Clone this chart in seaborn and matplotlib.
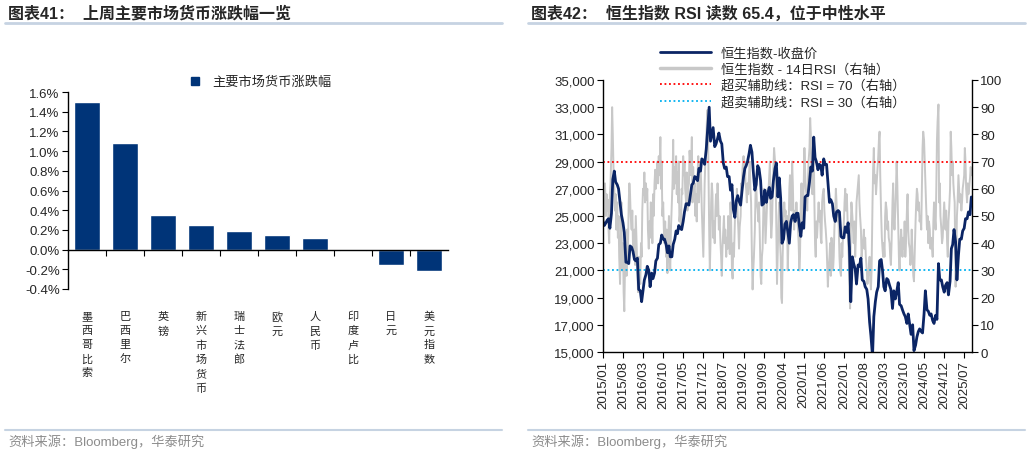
"""周报图表：主要市场货币涨跌幅 + 恒生指数 RSI。"""
import matplotlib
matplotlib.use("Agg")
import matplotlib.pyplot as plt
from matplotlib.lines import Line2D
import numpy as np
import pandas as pd
import seaborn as sns

# ---- 左图数据：上周主要市场货币涨跌幅（%）
currencies = ['墨西哥比索', '巴西里尔', '英镑', '新兴市场货币', '瑞士法郎',
              '欧元', '人民币', '印度卢比', '日元', '美元指数']
weekly_change = [1.50, 1.08, 0.35, 0.245, 0.185, 0.145, 0.115, -0.015, -0.16, -0.22]

# ---- 右图数据：恒生指数收盘价（每月 1 日、15 日）
hsi_close = [
    24600, 24300, 24500, 24700, 24800, 24100, 25200, 27700, 28300, 27500, 27300, 27000,
    26000, 25100, 24500, 23800, 21600, 21600, 21500, 22800, 22700, 22400, 21800, 21700,  # 2015
    21900, 19600, 19500, 18700, 19500, 20300, 20700, 21300, 21000, 19800, 20800, 20400,
    20800, 21700, 21900, 22900, 23000, 23600, 23300, 23300, 22900, 22300, 22800, 22000,  # 2016
    22000, 22900, 23300, 23900, 23700, 24300, 24100, 24000, 24600, 25300, 25900, 25900,
    25800, 26500, 27300, 27400, 27900, 27800, 27600, 28500, 28300, 29200, 29100, 28800,  # 2017
    29900, 31300, 33000, 30500, 31000, 31500, 30100, 30300, 30700, 31100, 30500, 30300,
    28900, 28500, 28600, 27900, 27900, 26900, 27300, 25500, 24900, 26100, 26500, 26100,  # 2018
    25800, 26800, 27900, 28500, 28700, 29000, 29600, 30200, 29700, 28300, 26900, 27300,
    28700, 28500, 27600, 25800, 25900, 26900, 26000, 26600, 27100, 26300, 26400, 27600,  # 2019
    28500, 28900, 26400, 27800, 26300, 23000, 23300, 24400, 24600, 23900, 23000, 24500,
    25000, 25100, 24600, 25200, 25200, 24300, 23500, 24500, 24100, 26400, 26500, 26500,  # 2020
    27500, 28600, 28300, 30800, 29300, 29000, 28400, 28800, 28700, 28000, 29200, 28800,
    28800, 27500, 26000, 26200, 25900, 25000, 24600, 25300, 25400, 25300, 23500, 23400,  # 2021
    23400, 24200, 23800, 24500, 22700, 18700, 22000, 21500, 21100, 20000, 21400, 21300,
    21900, 20300, 20200, 19800, 19600, 18900, 17200, 16200, 14700, 17600, 18700, 19400,  # 2022
    19800, 21700, 21800, 21000, 19800, 19500, 20400, 20300, 19900, 19600, 18200, 19500,
    18900, 19400, 20100, 18500, 18400, 18100, 17800, 17600, 17100, 17800, 17000, 16300,  # 2023
    17000, 15100, 15500, 16100, 16500, 16700, 16500, 16400, 17800, 19500, 18100, 18000,
    17700, 17800, 17300, 17100, 17700, 17400, 21500, 20300, 20300, 19800, 19400, 19900,  # 2024
    20100, 19200, 20200, 22600, 22900, 24000, 23100, 20300, 22100, 23300, 23300, 23900,
    24100, 24800, 24800, 25300, 25100, 26400,                                            # 2025
]

# ---- 右图数据：恒生指数 14 日 RSI（每月 1、8、15、22 日）
rsi_14 = [
    55, 48, 60, 62, 50, 58, 52, 56, 45, 40, 58, 62, 75, 90, 80, 68, 60, 52, 58, 45, 55, 42, 50, 35,
    25, 40, 55, 30, 40, 22, 15, 30, 38, 28, 45, 35, 55, 62, 58, 50, 45, 52, 40, 38, 45, 32, 50, 42,  # 2015
    30, 22, 35, 28, 25, 40, 35, 52, 60, 58, 66, 55, 62, 56, 60, 45, 38, 48, 42, 55, 52, 40, 58, 50,
    62, 67, 60, 65, 70, 62, 72, 65, 79, 60, 70, 50, 55, 45, 40, 48, 35, 45, 29, 40, 50, 35, 30, 45,  # 2016
    55, 62, 78, 60, 68, 62, 72, 58, 66, 55, 70, 48, 52, 45, 60, 58, 72, 65, 70, 60, 55, 66, 52, 60,
    62, 74, 70, 65, 79, 55, 68, 60, 62, 50, 58, 48, 65, 72, 55, 62, 70, 62, 52, 45, 35, 48, 62, 70,  # 2017
    78, 85, 89, 75, 45, 30, 40, 55, 62, 58, 42, 48, 40, 52, 58, 50, 62, 55, 45, 50, 40, 35, 28, 38,
    45, 50, 40, 45, 35, 42, 38, 50, 40, 36, 55, 48, 30, 27, 40, 35, 48, 55, 52, 60, 50, 45, 38, 46,  # 2018
    50, 62, 60, 68, 72, 65, 70, 62, 60, 55, 62, 58, 66, 70, 60, 55, 35, 23, 30, 35, 45, 58, 62, 55,
    52, 48, 55, 45, 28, 25, 35, 38, 55, 60, 50, 40, 48, 55, 60, 58, 65, 70, 50, 42, 48, 60, 68, 75,  # 2019
    70, 65, 45, 25, 40, 50, 55, 42, 35, 20, 18, 35, 48, 55, 50, 52, 45, 50, 30, 40, 60, 65, 58, 52,
    70, 62, 50, 45, 52, 48, 55, 50, 45, 40, 30, 35, 55, 62, 52, 48, 62, 75, 68, 60, 58, 52, 62, 70,  # 2020
    75, 86, 80, 62, 58, 72, 76, 55, 40, 35, 48, 42, 50, 55, 48, 52, 42, 40, 55, 58, 60, 52, 48, 45,
    40, 32, 24, 30, 35, 40, 28, 42, 38, 30, 35, 45, 52, 60, 55, 48, 52, 45, 35, 30, 28, 40, 35, 42,  # 2021
    48, 55, 60, 52, 58, 50, 40, 35, 22, 16, 45, 55, 50, 45, 40, 48, 35, 42, 55, 58, 62, 65, 55, 50,
    45, 35, 38, 40, 45, 38, 42, 35, 30, 25, 28, 30, 35, 26, 23, 30, 55, 68, 75, 62, 65, 58, 62, 66,  # 2022
    72, 78, 81, 65, 50, 42, 38, 35, 40, 35, 50, 55, 52, 45, 48, 42, 40, 35, 32, 40, 55, 62, 50, 45,
    52, 60, 70, 62, 45, 35, 30, 38, 45, 40, 35, 42, 38, 48, 35, 40, 52, 58, 45, 40, 38, 32, 35, 45,  # 2023
    35, 28, 26, 35, 48, 55, 60, 58, 52, 55, 48, 50, 45, 60, 75, 81, 78, 70, 62, 55, 45, 50, 40, 48,
    45, 38, 42, 40, 35, 48, 55, 50, 45, 60, 78, 85, 91, 55, 62, 50, 45, 40, 42, 48, 55, 50, 45, 52,  # 2024
    40, 35, 48, 52, 60, 81, 75, 65, 70, 62, 58, 55, 24, 35, 50, 55, 65, 60, 55, 58, 52, 55, 60, 62,
    65, 75, 70, 60, 55, 62, 58, 60, 64, 68, 65, 65,                                                  # 2025
]
overbought = 70
oversold = 30

months = pd.date_range('2015-01-01', '2025-09-01', freq='MS')
hsi_dates = [m + pd.Timedelta(days=d) for m in months for d in (0, 14)]
rsi_dates = [m + pd.Timedelta(days=d) for m in months for d in (0, 7, 14, 21)]
hsi_df = pd.DataFrame({'date': hsi_dates, 'close': hsi_close})
rsi_df = pd.DataFrame({'date': rsi_dates, 'rsi': rsi_14})
bar_df = pd.DataFrame({'currency': currencies, 'change': weekly_change})

NAVY_BAR = '#003478'
NAVY_LINE = '#0B2565'
GREY = '#C8C8C8'
RULE = '#C6D3E2'
W, H = 1031, 456

sns.set_theme(style='ticks')
plt.rcParams['font.family'] = ['Liberation Sans', 'Noto Sans CJK SC']
plt.rcParams['axes.unicode_minus'] = False

fig = plt.figure(figsize=(W / 100, H / 100), dpi=100)


def fx(px):
    return px / W


def fy(py):
    return 1 - py / H


# 标题、分隔线、资料来源
for x0, x1, title in [(5, 502, '图表41：  上周主要市场货币涨跌幅一览'),
                      (528, 1025, '图表42：  恒生指数 RSI 读数 65.4，位于中性水平')]:
    fig.text(fx(x0 + 3), fy(14), title, fontsize=11.5, fontweight='bold', va='center', ha='left')
    fig.add_artist(Line2D([fx(x0), fx(x1)], [fy(24), fy(24)], color=RULE, lw=2))
    fig.add_artist(Line2D([fx(x0), fx(x1)], [fy(431), fy(431)], color=RULE, lw=1.5))
    fig.text(fx(x0 + 3), fy(442), '资料来源：Bloomberg，华泰研究', fontsize=9.5,
             color='#8C8C8C', va='center', ha='left')

# ---- 左图：柱状图
ax = fig.add_axes([fx(68), fy(290), fx(448 - 68), (290 - 93) / H])
sns.barplot(data=bar_df, x='currency', y='change', color=NAVY_BAR, width=0.66,
            saturation=1, ax=ax)
ax.set_ylim(-0.4, 1.6)
ax.set_xlim(-0.5, len(currencies) - 0.5)
ax.set_yticks(np.arange(-0.4, 1.61, 0.2))
ax.set_yticklabels([f'{v:.1f}%' for v in np.arange(-0.4, 1.61, 0.2)], fontsize=9.5)
ax.set_xticks(np.arange(0.5, len(currencies) - 0.5, 1))
ax.set_xticklabels([])
ax.spines['bottom'].set_position(('data', 0))
for s in ('top', 'right'):
    ax.spines[s].set_visible(False)
for s in ('left', 'bottom'):
    ax.spines[s].set_color('black')
    ax.spines[s].set_linewidth(1)
ax.tick_params(axis='both', direction='out', length=4, width=0.8, color='black', pad=2)
ax.set_xlabel('')
ax.set_ylabel('')
for i, name in enumerate(currencies):
    ax.text(i, -0.112, '\n'.join(name), transform=ax.get_xaxis_transform(),
            ha='center', va='top', fontsize=8, linespacing=1.5)
fig.legend(handles=[Line2D([], [], marker='s', ls='', color=NAVY_BAR, markersize=5.5)],
           labels=['主要市场货币涨跌幅'], loc='center left',
           bbox_to_anchor=(fx(182), fy(83)), frameon=False, fontsize=9.5,
           handletextpad=0.3, borderaxespad=0, borderpad=0)

# ---- 右图：恒生指数 + RSI
axl = fig.add_axes([fx(603), fy(353), fx(972 - 603), (353 - 81) / H])
axr = axl.twinx()
sns.lineplot(data=rsi_df, x='date', y='rsi', color=GREY, lw=1.4, ax=axr)
axr.axhline(overbought, color='#FF0000', ls=(0, (1, 1.5)), lw=1.3)
axr.axhline(oversold, color='#00B0F0', ls=(0, (1, 1.5)), lw=1.3)
sns.lineplot(data=hsi_df, x='date', y='close', color=NAVY_LINE, lw=2, ax=axl)
axl.set_zorder(axr.get_zorder() + 1)
axl.patch.set_visible(False)

axl.set_ylim(15000, 35000)
axr.set_ylim(0, 100)
axl.set_xlim(pd.Timestamp('2015-01-01'), pd.Timestamp('2025-09-22'))
axl.set_yticks(range(15000, 35001, 2000))
axl.set_yticklabels([f'{v:,}' for v in range(15000, 35001, 2000)], fontsize=9.5)
axr.set_yticks(range(0, 101, 10))
axr.set_yticklabels([str(v) for v in range(0, 101, 10)], fontsize=9.5)
xt = pd.date_range('2015-01-01', '2025-07-01', freq='7MS')
axl.set_xticks(xt)
axl.set_xticklabels([d.strftime('%Y/%m') for d in xt], rotation=90, fontsize=9.5)
for a in (axl, axr):
    a.set_xlabel('')
    a.set_ylabel('')
    a.spines['top'].set_visible(False)
    a.tick_params(direction='out', length=4, width=0.8, color='black', pad=2)
axl.spines['right'].set_visible(False)
axr.spines['left'].set_visible(False)
axr.spines['bottom'].set_visible(False)
for s in (axl.spines['left'], axl.spines['bottom'], axr.spines['right']):
    s.set_color('black')
    s.set_linewidth(1)

handles = [Line2D([], [], color=NAVY_LINE, lw=2),
           Line2D([], [], color=GREY, lw=2.5),
           Line2D([], [], color='#FF0000', ls=(0, (1, 1.5)), lw=1.3),
           Line2D([], [], color='#00B0F0', ls=(0, (1, 1.5)), lw=1.3)]
labels = ['恒生指数-收盘价', '恒生指数 - 14日RSI（右轴）',
          '超买辅助线：RSI = 70（右轴）', '超卖辅助线：RSI = 30（右轴）']
fig.legend(handles=handles, labels=labels, loc='upper left',
           bbox_to_anchor=(fx(660), fy(48)), frameon=False, fontsize=9.5,
           handlelength=3.9, handletextpad=0.7, labelspacing=0.26,
           borderaxespad=0, borderpad=0)

fig.savefig('out.png', dpi=100)
plt.close(fig)
